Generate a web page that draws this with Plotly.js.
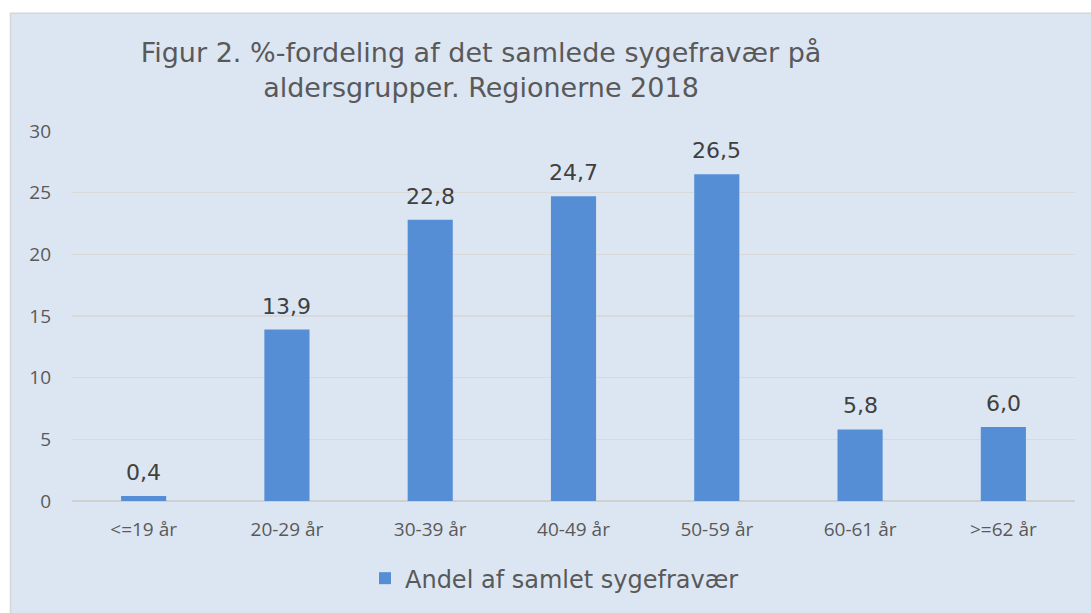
<!DOCTYPE html>
<html><head><meta charset="utf-8">
<script src="https://cdn.plot.ly/plotly-3.0.1.min.js"></script>
<style>html,body{margin:0;padding:0;background:#fff}#chart{width:1091px;height:613px}</style>
</head><body><div id="chart"></div>
<script>
const categories = ["<=19 år","20-29 år","30-39 år","40-49 år","50-59 år","60-61 år",">=62 år"];
const values = [0.4, 13.9, 22.8, 24.7, 26.5, 5.8, 6.0];
const seriesName = "Andel af samlet sygefravær";
const yTicks = [0,5,10,15,20,25,30];

const W=1091,H=613,L=72,R=16,T=131,B=110;
const pw=W-L-R, ph=H-T-B;
const px = p => (p-L)/pw;
const py = p => (H-B-p)/ph;

const labels = values.map(v => v.toFixed(1).replace('.', ','));

const trace = {
  type:'bar', x:categories, y:values, name:seriesName,
  marker:{color:'#558ed5'},
  hoverinfo:'none', showlegend:true
};

const annotations = categories.map((c,i) => ({
  x:c, y:values[i], xref:'x', yref:'y', text:labels[i], showarrow:false,
  yanchor:'bottom', yshift:9,
  font:{family:'DejaVu Sans', size:22, color:'#404040'}
}));

const layout = {
  width:W, height:H,
  margin:{l:L,r:R,t:T,b:B},
  paper_bgcolor:'#ffffff', plot_bgcolor:'rgba(0,0,0,0)',
  bargap:0.685,
  title:{text:'Figur 2. %-fordeling af det samlede sygefravær på<br>aldersgrupper. Regionerne 2018',
    font:{family:'DejaVu Sans', size:27, color:'#595959'},
    x:px(481), xref:'paper', xanchor:'center', y:1-62/H, yref:'container', yanchor:'top'},
  xaxis:{showgrid:false, zeroline:false, showline:false, ticks:'',
    tickfont:{family:'Open Sans', size:19, color:'#595959'}, ticklabelstandoff:15,
    automargin:false},
  yaxis:{range:[0,30], tickvals:yTicks, showgrid:true, gridcolor:'#d9d9d9', gridwidth:1.5,
    zeroline:true, zerolinecolor:'#d0d0d0', zerolinewidth:2, showline:false, ticks:'',
    tickfont:{family:'Open Sans', size:19, color:'#595959'}, ticklabelstandoff:20, automargin:false},
  legend:{orientation:'h', x:px(365), xanchor:'left', y:py(581), yanchor:'middle',
    font:{family:'DejaVu Sans', size:24, color:'#595959'}, bgcolor:'rgba(0,0,0,0)', itemwidth:30},
  annotations:annotations,
  shapes:[{type:'rect', xref:'paper', yref:'paper', layer:'below',
    x0:px(10.5), x1:px(1095), y0:py(12.5), y1:py(620),
    fillcolor:'#dce6f2', line:{color:'#d6d6d6', width:1.5}}]
};

Plotly.newPlot('chart',[trace],layout,{displayModeBar:false, staticPlot:true});
</script></body></html>
